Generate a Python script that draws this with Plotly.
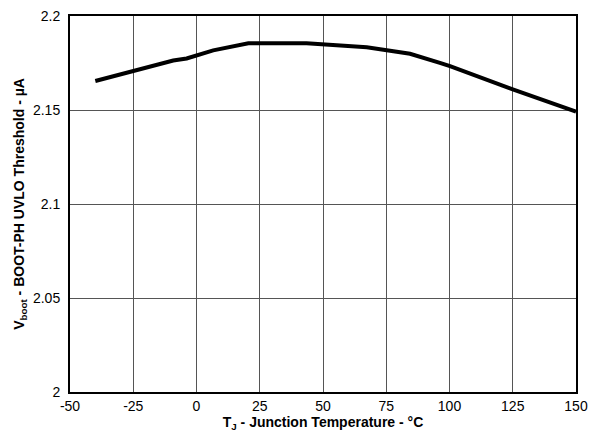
import plotly.graph_objects as go

temp_c = [-40, -25, -19.7, -9.2, -3.9, 0.7, 6.6, 20.5, 43.5, 67.3, 84.4, 96.2, 100.2, 125, 150]
threshold = [2.1654, 2.1707, 2.1724, 2.1763, 2.1774, 2.1792, 2.1817, 2.1855, 2.1855, 2.1834, 2.1799, 2.1751, 2.1733, 2.161, 2.1491]

x_ticks = [-50, -25, 0, 25, 50, 75, 100, 125, 150]
y_ticks = [2, 2.05, 2.1, 2.15, 2.2]
y_tick_text = ["2", "2.05", "2.1", "2.15", "2.2"]

fig = go.Figure()
fig.add_trace(go.Scatter(x=temp_c, y=threshold, mode="lines",
                         line=dict(color="black", width=4), showlegend=False))

font = "Liberation Sans, Arial, sans-serif"
fig.update_layout(
    width=593, height=437,
    margin=dict(l=70, r=17, t=16, b=45),
    paper_bgcolor="white", plot_bgcolor="white",
    font=dict(family=font, size=14, color="black"),
)
fig.update_xaxes(range=[-50, 150], tickvals=x_ticks, ticktext=[str(v) for v in x_ticks],
                 showgrid=True, gridcolor="#555555", gridwidth=1,
                 showline=True, linecolor="black", linewidth=2, mirror=True,
                 zeroline=False, ticks="", automargin=False,
                 tickfont=dict(size=14),
                 title=dict(text="<b>T<sub>J</sub> - Junction Temperature - °C</b>", standoff=1,
                            font=dict(size=14)))
fig.update_yaxes(range=[2, 2.2], tickvals=y_ticks, ticktext=y_tick_text,
                 showgrid=True, gridcolor="#555555", gridwidth=1,
                 showline=True, linecolor="black", linewidth=2, mirror=True,
                 zeroline=False, ticks="", automargin=False, ticklabelstandoff=5,
                 tickfont=dict(size=14),
                 title=dict(text="<b>V<sub>boot</sub> - BOOT-PH UVLO Threshold - µA</b>", standoff=5,
                            font=dict(size=14)))

fig.write_html("out.html", config={"displayModeBar": False},
               post_script="document.body.style.margin='0px';")
